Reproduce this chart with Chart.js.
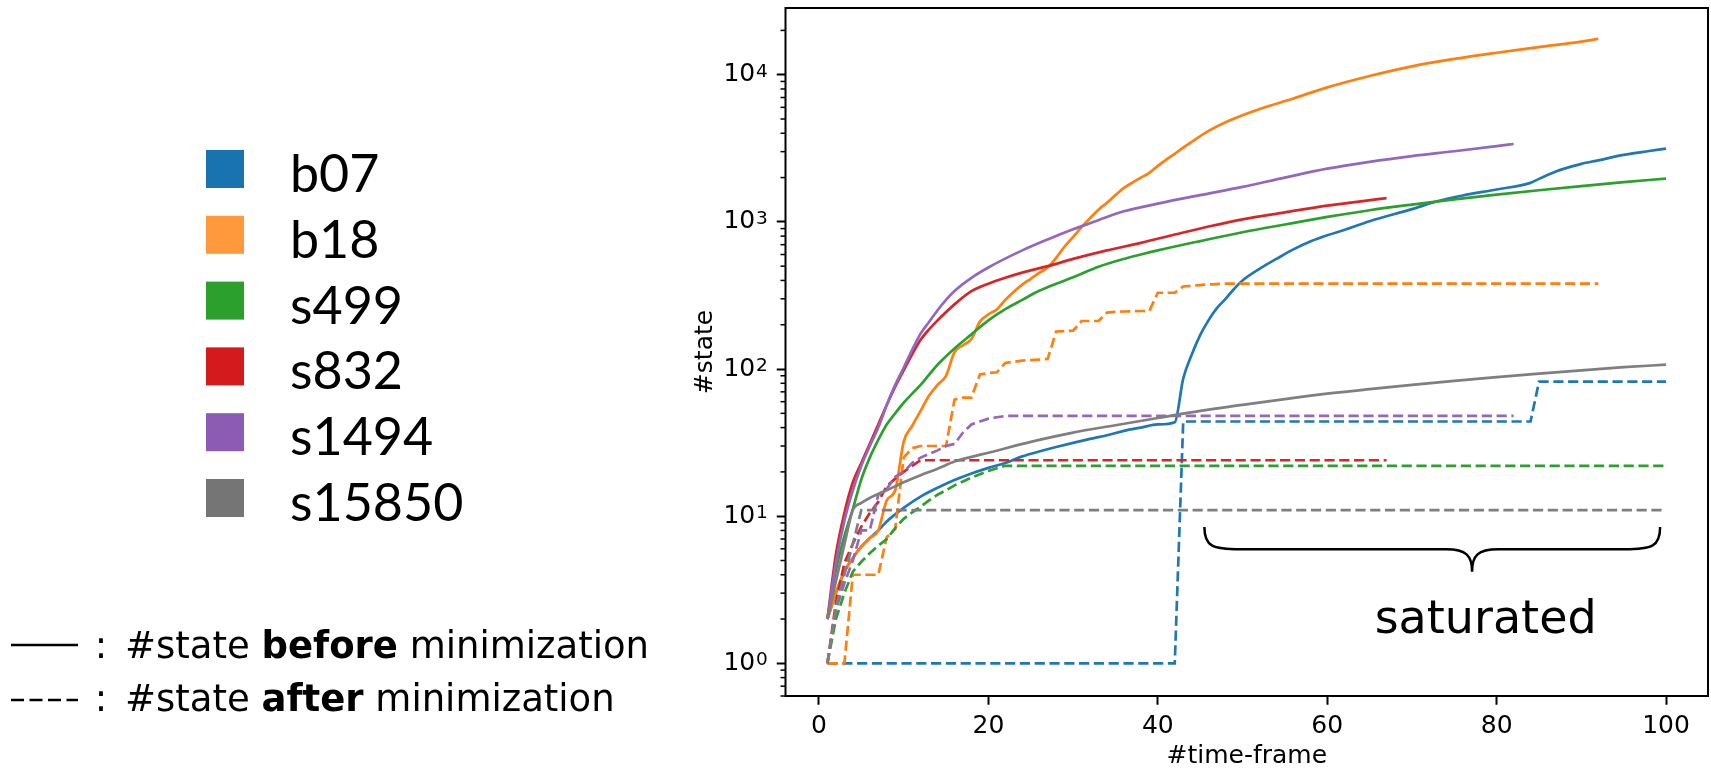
<!DOCTYPE html>
<html>
<head>
<meta charset="utf-8">
<title>#state per time-frame</title>
<script src="https://cdn.jsdelivr.net/npm/chart.js@4.4.1/dist/chart.umd.min.js"></script>
<style>
  html, body { margin: 0; padding: 0; background: #fff; }
  #box { position: relative; width: 1711px; height: 774px; }
</style>
</head>
<body>
<div id="box"><canvas id="states" width="1711" height="774"></canvas></div>
<script>
// circuits and their colours
const circuits = ['b07', 'b18', 's499', 's832', 's1494', 's15850'];
const lineColors = ['#1f77b4', '#ff7f0e', '#2ca02c', '#d62728', '#9467bd', '#7f7f7f'];
const swatchColors = ['#1a73b1', '#ff993b', '#2ca02c', '#d41a1c', '#8c5cb5', '#757575'];

// [time-frame, #state] before minimization
const b07Before = [[1,2],[2,3],[3,4.2],[4,5.2],[5,6.2],[6,7.1],[7,8],[8,9.2],[9,10.3],[10,11.4],[12,13.6],[14,15.6],[16,17.6],[18,19.5],[20,21.3],[22,23],[24,25.5],[26,27.5],[28,29.5],[30,31.5],[32,33.5],[34,35.5],[36,38],[38,40],[40,42],[42,43.5],[43,86],[44,125],[45,170],[46,215],[47,260],[48,300],[49,350],[50,400],[52,480],[54,560],[56,650],[58,735],[60,810],[62,880],[65,1010],[70,1220],[73,1380],[76,1510],[80,1660],[84,1840],[85,1960],[86,2080],[87,2200],[88,2300],[90,2480],[92,2620],[95,2850],[98,3030],[100,3150]];
const b18Before = [[1,2],[2,3],[3,4.2],[4,5.2],[5,6.2],[6,7.1],[7,8],[8,12.8],[9,15],[10,32],[11,41],[12,52],[13,66],[14,78],[15,90],[16,130],[17,145],[18,160],[19,210],[20,235],[21,254],[22,295],[23,335],[24,375],[25,410],[26,450],[27,490],[28,570],[29,680],[30,790],[31,920],[32,1060],[33,1210],[34,1350],[35,1520],[36,1700],[37,1850],[38,2000],[39,2150],[40,2400],[41,2650],[42,2900],[43,3200],[44,3500],[46,4150],[48,4750],[50,5300],[53,6100],[56,6900],[60,8200],[65,9800],[70,11400],[75,12800],[80,14100],[85,15400],[90,16800],[92,17500]];
const s499Before = [[1,2],[2,4.3],[3,7.3],[4,11.2],[5,17.8],[6,25],[7,33],[8,42],[9,50],[10,59],[11,68],[12,78],[14,107],[16,138],[18,172],[20,214],[22,255],[24,295],[26,340],[28,380],[30,420],[33,495],[36,560],[38,600],[40,640],[45,740],[50,850],[55,960],[60,1080],[65,1200],[70,1310],[75,1420],[80,1530],[85,1640],[90,1750],[95,1860],[100,1970]];
const s832Before = [[1,2],[2,5.5],[3,10.5],[4,17],[5,23],[6,31],[7,42],[8,57],[9,76],[10,98],[11,126],[12,158],[13,186],[14,214],[16,275],[18,338],[20,380],[22,417],[24,452],[27,500],[30,560],[34,640],[38,720],[42,820],[46,930],[50,1040],[55,1160],[60,1290],[64,1380],[67,1450]];
const s1494Before = [[1,2],[2,4.8],[3,9.3],[4,15],[5,22],[6,30],[7,40],[8,57],[9,78],[10,102],[11,135],[12,174],[13,209],[14,251],[15,295],[16,339],[18,417],[20,490],[24,640],[27,760],[30,890],[32,980],[34,1080],[36,1180],[40,1330],[45,1520],[50,1730],[55,2000],[60,2300],[65,2560],[70,2800],[75,3020],[80,3270],[82,3380]];
const s15850Before = [[1,2],[2,3.6],[3,6.4],[4,11],[5,12.3],[6,13.3],[8,15],[10,17],[12,19],[14,21],[16,23.5],[18,25.3],[20,27],[25,32],[30,37],[35,41.5],[40,46.5],[45,52],[50,57],[55,62.5],[60,68],[65,73],[70,78],[75,83],[80,88],[85,93],[90,98],[95,103],[100,107]];

// [time-frame, #state] after minimization
const b07After = [[1,1],[42,1],[43,44],[84,44],[85,82],[100,82]];
const b18After = [[1,1],[3,1],[4,4],[7,4],[8,7.2],[9,8.2],[10,25],[11,29],[12,30],[15,30],[16,62],[17,64],[18,64],[19,92],[20,94],[21,95],[22,110],[23,112],[24,114],[25,115],[26,116],[27,117],[28,180],[29,181],[30,182],[31,212],[33,212],[34,242],[35,245],[36,246],[37,247],[38,248],[39,248],[40,330],[42,330],[43,364],[44,368],[45,372],[46,376],[47,378],[48,380],[92,380]];
const s499After = [[1,1],[2,2],[3,3],[4,4.2],[5,4.9],[6,5.6],[7,6.3],[8,7],[9,8.3],[10,9.6],[11,10.6],[12,11.6],[13,12.8],[14,14],[15,15],[16,16.2],[17,17.2],[18,18.3],[19,19.3],[20,20.3],[21,21.2],[22,22],[100,22]];
const s832After = [[1,1],[2,2.6],[3,4.8],[4,6.5],[5,8.5],[6,10.5],[7,12.5],[8,16],[9,18],[10,20],[11,22],[12,24],[67,24]];
const s1494After = [[1,1],[2,2.3],[3,3.5],[4,5],[5,8],[6,8],[7,14],[8,15.3],[9,18.5],[10,20],[11,23],[12,25],[13,26.5],[14,28],[15,30],[16,31],[17,37],[18,42],[19,44],[20,46],[21,47],[22,48],[82,48]];
const s15850After = [[1,1],[2,2.4],[3,4],[4,6.5],[5,11],[100,11]];

const beforeSeries = [b07Before, b18Before, s499Before, s832Before, s1494Before, s15850Before];
const afterSeries = [b07After, b18After, s499After, s832After, s1494After, s15850After];

// axis ticks
const xTicks = [0, 20, 40, 60, 80, 100];
const yTicks = [1, 10, 100, 1000, 10000];

const toPoints = arr => arr.map(([x, y]) => ({ x: x, y: y }));

const datasets = [];
circuits.forEach((name, i) => {
    datasets.push({
        label: name + ' before',
        data: toPoints(beforeSeries[i]),
        borderColor: lineColors[i],
        borderWidth: 2.7,
        pointRadius: 0,
        cubicInterpolationMode: 'monotone',
        order: -(2 * i)
    });
    datasets.push({
        label: name + ' after',
        data: toPoints(afterSeries[i]),
        borderColor: lineColors[i],
        borderWidth: 2.7,
        borderDash: [10.2, 4.6],
        pointRadius: 0,
        tension: 0,
        order: -(2 * i + 1)
    });
});

// frame, minor ticks, exponents, keys and the "saturated" brace
const decorations = {
    id: 'decorations',
    afterDraw(chart) {
        const ctx = chart.ctx;
        const area = chart.chartArea;
        const xs = chart.scales.x;
        const ys = chart.scales.y;
        ctx.save();

        // axes frame
        ctx.strokeStyle = '#000';
        ctx.lineWidth = 2;
        ctx.strokeRect(area.left, area.top, area.right - area.left, area.bottom - area.top);

        // minor log ticks
        ctx.lineWidth = 1.5;
        for (let e = -1; e <= 4; e++) {
            for (let m = 2; m <= 9; m++) {
                const v = m * Math.pow(10, e);
                if (v < ys.min || v > ys.max) continue;
                const py = ys.getPixelForValue(v);
                ctx.beginPath();
                ctx.moveTo(area.left - 5, py);
                ctx.lineTo(area.left, py);
                ctx.stroke();
            }
        }

        // exponents next to the "10" tick labels
        ctx.fillStyle = '#000';
        ctx.font = '18.5px "DejaVu Sans"';
        ctx.textAlign = 'left';
        ctx.textBaseline = 'alphabetic';
        yTicks.forEach(v => {
            ctx.fillText(String(Math.round(Math.log10(v))), area.left - 29.5, ys.getPixelForValue(v) + 2);
        });

        // colour key
        ctx.font = '52px Lato';
        circuits.forEach((name, i) => {
            const top = 150 + i * 65.8;
            ctx.fillStyle = swatchColors[i];
            ctx.fillRect(206, top, 38, 38);
            ctx.fillStyle = '#000';
            ctx.fillText(name, 290, top + 42);
        });

        // line style key
        ctx.strokeStyle = '#000';
        ctx.lineWidth = 2.7;
        ctx.beginPath();
        ctx.moveTo(11, 645);
        ctx.lineTo(78, 645);
        ctx.stroke();
        ctx.setLineDash([13, 5.5]);
        ctx.beginPath();
        ctx.moveTo(11, 700);
        ctx.lineTo(78, 700);
        ctx.stroke();
        ctx.setLineDash([]);

        const regular = '37px "DejaVu Sans"';
        const bold = 'bold 37px "DejaVu Sans"';
        const rows = [
            { y: 657.7, runs: [['#state ', regular], ['before', bold], [' minimization', regular]] },
            { y: 711, runs: [['#state ', regular], ['after', bold], [' minimization', regular]] }
        ];
        rows.forEach(row => {
            ctx.font = regular;
            ctx.textAlign = 'center';
            ctx.fillText(':', 101, row.y);
            ctx.textAlign = 'left';
            let cx = 125;
            row.runs.forEach(([t, f]) => {
                ctx.font = f;
                ctx.fillText(t, cx, row.y);
                cx += ctx.measureText(t).width;
            });
        });

        // brace over the flat part of the curves
        const xL = xs.getPixelForValue(45.5);
        const xR = xs.getPixelForValue(99.3);
        const xM = xs.getPixelForValue(77.1);
        const yT = ys.getPixelForValue(8.45);
        const yTip = ys.getPixelForValue(4.2);
        const yMid = (yT + yTip) / 2;
        ctx.lineWidth = 2.5;
        ctx.beginPath();
        ctx.moveTo(xL, yT);
        ctx.bezierCurveTo(xL, yMid - 3, xL + 8, yMid, xL + 36, yMid);
        ctx.lineTo(xM - 26, yMid);
        ctx.bezierCurveTo(xM - 6, yMid, xM, yMid + 6, xM, yTip);
        ctx.bezierCurveTo(xM, yMid + 6, xM + 6, yMid, xM + 26, yMid);
        ctx.lineTo(xR - 36, yMid);
        ctx.bezierCurveTo(xR - 8, yMid, xR, yMid - 3, xR, yT);
        ctx.stroke();

        ctx.font = '46px "DejaVu Sans"';
        ctx.textAlign = 'center';
        ctx.fillText('saturated', xs.getPixelForValue(78.7), ys.getPixelForValue(1.6));

        ctx.restore();
    }
};

Chart.defaults.font.family = '"DejaVu Sans"';
Chart.defaults.color = '#000';

const tickGrid = {
    drawOnChartArea: false,
    drawTicks: true,
    tickLength: 8.75,
    tickWidth: 2,
    tickColor: '#000'
};

new Chart(document.getElementById('states').getContext('2d'), {
    type: 'line',
    data: { datasets: datasets },
    plugins: [decorations],
    options: {
        responsive: false,
        animation: false,
        layout: { padding: { left: 690, right: 3, top: 8, bottom: 0 } },
        plugins: {
            legend: { display: false },
            tooltip: { enabled: false }
        },
        scales: {
            x: {
                type: 'linear',
                min: -3.95,
                max: 104.95,
                afterBuildTicks: s => { s.ticks = xTicks.map(v => ({ value: v })); },
                afterFit: s => { s.height = 78; s.paddingLeft = 0; s.paddingRight = 0; },
                grid: tickGrid,
                border: { display: false },
                ticks: { font: { size: 25 }, padding: 7, maxRotation: 0, autoSkip: false, color: '#000' },
                title: { display: true, text: '#time-frame', font: { size: 25 }, color: '#000', padding: { top: 0, bottom: 3 } }
            },
            y: {
                type: 'logarithmic',
                min: 0.615,
                max: 28400,
                afterBuildTicks: s => { s.ticks = yTicks.map(v => ({ value: v })); },
                afterFit: s => { s.width = 95.5; s.paddingTop = 0; s.paddingBottom = 0; },
                grid: tickGrid,
                border: { display: false },
                ticks: {
                    font: { size: 25 },
                    padding: 21.5,
                    autoSkip: false,
                    color: '#000',
                    callback: () => '10'
                },
                title: { display: true, text: '#state', font: { size: 25 }, color: '#000', padding: { top: 0, bottom: 0 } }
            }
        }
    }
});
</script>
</body>
</html>
